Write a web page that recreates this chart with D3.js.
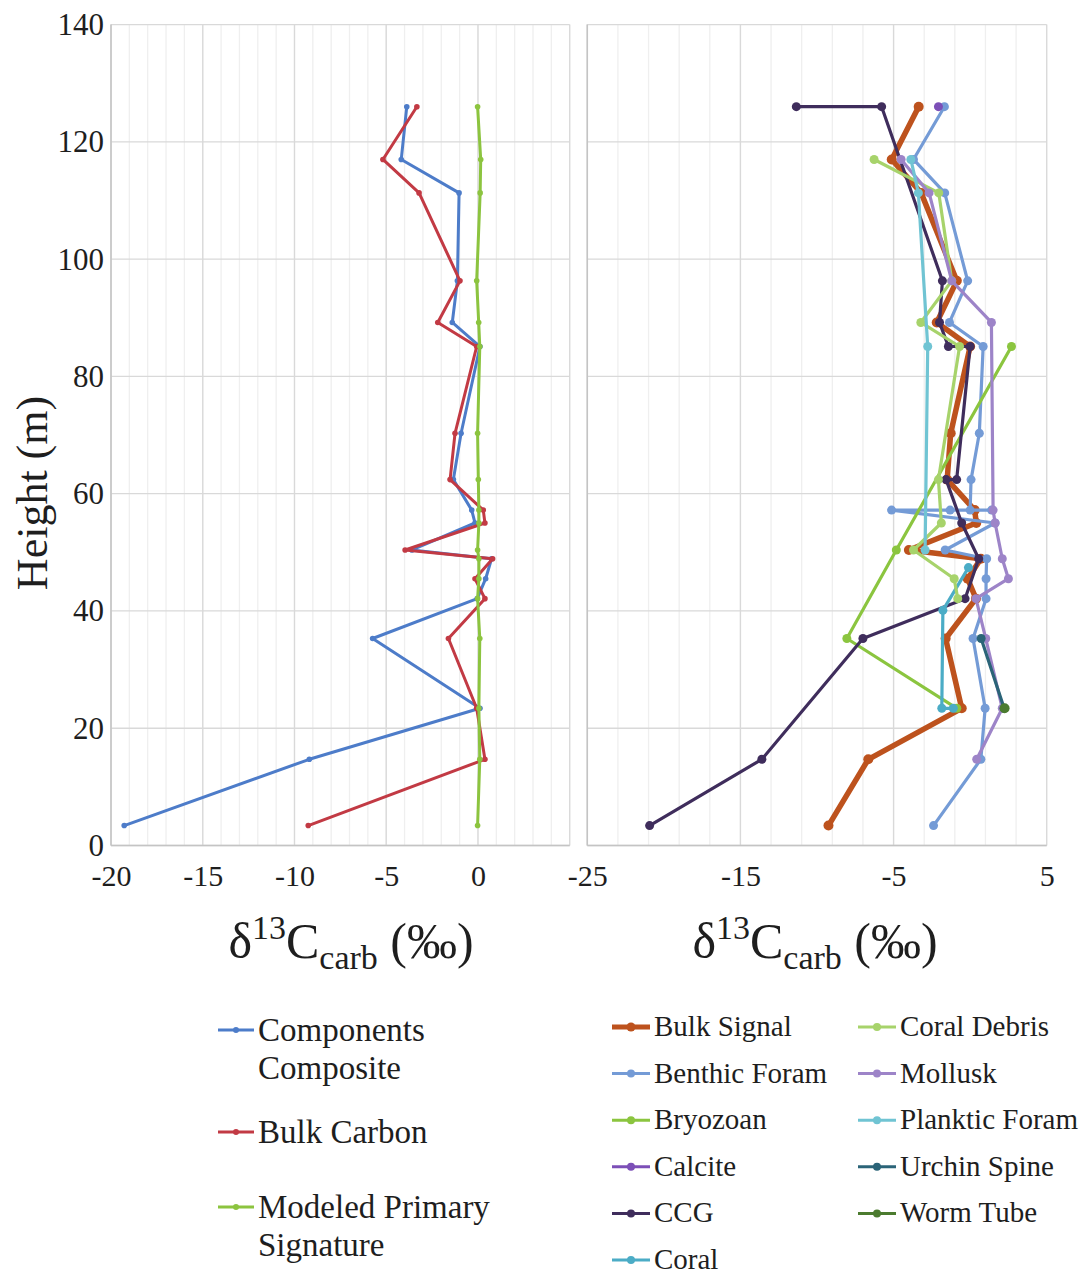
<!DOCTYPE html>
<html>
<head>
<meta charset="utf-8">
<script src="https://cdn.jsdelivr.net/npm/d3@7"></script>
<style>
  body { margin: 0; background: #fff; }
  svg { display: block; }
  text { font-family: "Liberation Serif", "Times New Roman", serif; fill: #1e1e1e; }
</style>
</head>
<body>
<svg id="chart" width="1080" height="1275"></svg>
<script>
// ---- Left panel: bulk-rock records (one value per sampled height) ----
const sampleHeights = [126, 117, 111.3, 96.3, 89.2, 85.1, 70.3, 62.4, 57.2, 55, 50.4, 48.9, 45.5, 42.1, 35.3, 23.4, 14.7, 3.4];
const componentsComposite = [-3.88, -4.18, -1.03, -1.12, -1.40, 0.11, -0.92, -1.34, -0.34, -0.16, -3.6, 0.74, 0.42, -0.04, -5.74, 0.11, -9.19, -19.28];
const bulkCarbon = [-3.33, -5.18, -3.21, -0.98, -2.19, -0.07, -1.25, -1.52, 0.29, 0.38, -3.97, 0.80, -0.16, 0.38, -1.61, -0.07, 0.38, -9.25];
const modeledPrimary = [-0.02, 0.15, 0.12, -0.07, 0.04, 0.10, -0.02, 0.02, 0.05, 0.05, -0.02, 0.05, 0.05, -0.02, 0.10, 0.05, 0.10, -0.02];

// ---- Right panel: component records as [δ13C, height] pairs ----
const bulkSignal = [[-3.36,126],[-5.12,117],[-3.2,111.3],[-0.87,96.3],[-2.18,89.2],[0.0,85.1],[-1.27,70.3],[-1.5,62.4],[0.3,57.2],[0.4,55],[-4.0,50.4],[0.7,48.9],[-0.16,45.5],[0.38,42.1],[-1.6,35.3],[-0.55,23.4],[-6.65,14.7],[-9.25,3.4]];
const benthicForam = [[-1.68,126],[-3.70,117],[-1.66,111.3],[-0.16,96.3],[-1.35,89.2],[0.85,85.1],[0.60,70.3],[0.06,62.4],[0.0,57.2],[1.4,57.2],[-1.31,57.2],[-5.13,57.2],[1.63,55],[-1.63,50.4],[1.08,48.9],[1.04,45.5],[1.04,42.1],[0.19,35.3],[0.98,23.4],[0.70,14.7],[-2.39,3.4]];
const bryozoan = [[2.70,85.1],[-4.82,50.4],[-8.05,35.3],[-0.87,23.4]];
const calcite = [[-2.07,126]];
const ccg = [[-11.35,126],[-5.78,126],[-1.81,96.3],[-2.0,89.2],[-1.42,85.1],[0.0,85.1],[-0.88,62.4],[-1.57,62.4],[-0.55,55],[0.56,48.9],[-0.33,42.1],[-7.0,35.3],[-13.6,14.7],[-20.93,3.4]];
const coral = [[-0.11,47.4],[-1.78,40.1],[-1.85,23.4],[-1.1,23.4]];
const coralDebris = [[-6.27,117],[-2.05,111.3],[-1.2,96.3],[-3.22,89.2],[-0.69,85.1],[-2.07,62.4],[-1.88,55],[-3.7,50.4],[-1.04,45.5],[-0.81,42.1]];
const mollusk = [[-4.51,117],[-2.68,111.3],[-1.2,96.3],[1.39,89.2],[1.5,57.2],[1.63,55],[2.1,48.9],[2.5,45.5],[0.38,42.1],[1.02,35.3],[2.1,23.4],[0.43,14.7]];
const plankticForam = [[-3.87,117],[-3.38,111.3],[-2.77,85.1],[-2.94,50.4]];
const urchinSpine = [[0.72,35.3],[2.22,23.4]];
const wormTube = [[2.25,23.4]];

// ---- Axis ticks ----
const heightTicks = [0, 20, 40, 60, 80, 100, 120, 140];
const leftXTicks = [-20, -15, -10, -5, 0];
const rightXTicks = [-25, -15, -5, 5];

const svg = d3.select("#chart");

const y = d3.scaleLinear().domain([0, 140]).range([845.5, 24.6]);
const xL = d3.scaleLinear().domain([-20, 5]).range([111, 569.7]);
const xR = d3.scaleLinear().domain([-25, 5]).range([587.3, 1046.7]);

function grid(x, minorStep, majorVals) {
  const g = svg.append("g");
  const [d0, d1] = x.domain();
  g.selectAll(".minor").data(d3.range(d0, d1 + 0.001, minorStep)).join("line")
    .attr("x1", d => x(d)).attr("x2", d => x(d))
    .attr("y1", y(0)).attr("y2", y(140))
    .attr("stroke", "#efefef").attr("stroke-width", 1.3);
  g.selectAll(".hz").data(heightTicks).join("line")
    .attr("x1", x.range()[0]).attr("x2", x.range()[1])
    .attr("y1", d => y(d)).attr("y2", d => y(d))
    .attr("stroke", "#d9d9d9").attr("stroke-width", 1.3);
  g.selectAll(".major").data(majorVals).join("line")
    .attr("x1", d => x(d)).attr("x2", d => x(d))
    .attr("y1", y(0)).attr("y2", y(140))
    .attr("stroke", "#d9d9d9").attr("stroke-width", 1.3);
  // value axis line (left edge) and category axis line (bottom)
  g.append("line").attr("x1", x.range()[0]).attr("x2", x.range()[0])
    .attr("y1", y(0)).attr("y2", y(140)).attr("stroke", "#c4c4c4").attr("stroke-width", 1.5);
  g.append("line").attr("x1", x.range()[0]).attr("x2", x.range()[1])
    .attr("y1", y(0)).attr("y2", y(0)).attr("stroke", "#c4c4c4").attr("stroke-width", 1.5);
}

grid(xL, 1, [-20, -15, -10, -5, 0, 5]);
grid(xR, 2, [-25, -15, -5, 5]);

// tick labels
function xAxis(x, ticks) {
  const g = svg.append("g").attr("transform", `translate(0,${y(0)})`)
    .call(d3.axisBottom(x).tickValues(ticks).tickSize(0).tickPadding(19).tickFormat(d => String(d)));
  g.select(".domain").remove();
  g.selectAll("text").attr("font-size", 30).attr("font-family", "Liberation Serif").attr("fill", "#1e1e1e");
}
xAxis(xL, leftXTicks);
xAxis(xR, rightXTicks);

const yg = svg.append("g").attr("transform", `translate(${xL.range()[0]},0)`)
  .call(d3.axisLeft(y).tickValues(heightTicks).tickSize(0).tickPadding(7).tickFormat(d => String(d)));
yg.select(".domain").remove();
yg.selectAll("text").attr("font-size", 31).attr("font-family", "Liberation Serif").attr("fill", "#1e1e1e");

// axis titles
svg.append("text")
  .attr("transform", `translate(47,493) rotate(-90)`)
  .attr("text-anchor", "middle").attr("font-size", 44)
  .text("Height (m)");

function deltaTitle(cx) {
  const t = svg.append("text").attr("x", cx).attr("y", 958)
    .attr("text-anchor", "middle").attr("font-size", 50);
  t.append("tspan").text("δ");
  t.append("tspan").attr("font-size", 34).attr("dy", -19).text("13");
  t.append("tspan").attr("dy", 19).text("C");
  t.append("tspan").attr("font-size", 34).attr("dy", 11).text("carb");
  t.append("tspan").attr("dy", -11).text(" (‰)");
}
deltaTitle(351);
deltaTitle(815);

// ---- series drawing ----
function drawSeries(x, pts, color, width, r) {
  const line = d3.line().x(d => x(d[0])).y(d => y(d[1]));
  const g = svg.append("g");
  if (pts.length > 1) {
    g.append("path").datum(pts).attr("d", line)
      .attr("fill", "none").attr("stroke", color).attr("stroke-width", width)
      .attr("stroke-linejoin", "round").attr("stroke-linecap", "round");
  }
  g.selectAll("circle").data(pts).join("circle")
    .attr("cx", d => x(d[0])).attr("cy", d => y(d[1])).attr("r", r).attr("fill", color);
}

const leftSeries = [
  { name: ["Components", "Composite"], values: componentsComposite, color: "#4d7cc9" },
  { name: ["Bulk Carbon"], values: bulkCarbon, color: "#c23a44" },
  { name: ["Modeled Primary", "Signature"], values: modeledPrimary, color: "#8cc43f" }
];
leftSeries.forEach(s => {
  drawSeries(xL, s.values.map((v, i) => [v, sampleHeights[i]]), s.color, 3, 2.8);
});

const rightSeries = [
  { name: "Bulk Signal", data: bulkSignal, color: "#bd521d", w: 5.5, r: 5 },
  { name: "Benthic Foram", data: benthicForam, color: "#749bd6", w: 3.2, r: 4.5 },
  { name: "Bryozoan", data: bryozoan, color: "#8bc53f", w: 3.2, r: 4.5 },
  { name: "Calcite", data: calcite, color: "#7c4fb7", w: 3.2, r: 4.5 },
  { name: "CCG", data: ccg, color: "#3f2d5c", w: 3.2, r: 4.5 },
  { name: "Coral", data: coral, color: "#4bacc6", w: 3.2, r: 4.5 },
  { name: "Coral Debris", data: coralDebris, color: "#a7d36b", w: 3.2, r: 4.5 },
  { name: "Mollusk", data: mollusk, color: "#9d84c8", w: 3.2, r: 4.5 },
  { name: "Planktic Foram", data: plankticForam, color: "#70c4d3", w: 3.2, r: 4.5 },
  { name: "Urchin Spine", data: urchinSpine, color: "#2b6478", w: 3.2, r: 4.5 },
  { name: "Worm Tube", data: wormTube, color: "#4b7b2f", w: 3.2, r: 5 }
];
rightSeries.forEach(s => drawSeries(xR, s.data, s.color, s.w, s.r));

// ---- legends ----
function legendKey(x0, x1, yy, color, w, r) {
  svg.append("line").attr("x1", x0).attr("x2", x1).attr("y1", yy).attr("y2", yy)
    .attr("stroke", color).attr("stroke-width", w);
  svg.append("circle").attr("cx", (x0 + x1) / 2).attr("cy", yy).attr("r", r).attr("fill", color);
}

const leftLegendRows = [1030, 1132, 1207];
leftSeries.forEach((s, i) => {
  const yy = leftLegendRows[i];
  legendKey(218, 254, yy, s.color, 3, 3);
  s.name.forEach((line, j) => {
    svg.append("text").attr("x", 258).attr("y", yy + 11 + j * 38)
      .attr("font-size", 33).text(line);
  });
});

rightSeries.forEach((s, i) => {
  const col = i < 6 ? 0 : 1;
  const row = i < 6 ? i : i - 6;
  const yy = 1027 + row * 46.6;
  const x0 = col === 0 ? 612 : 858;
  legendKey(x0, x0 + 38, yy, s.color, s.w === 5.5 ? 5 : 3, s.w === 5.5 ? 4.5 : 4);
  svg.append("text").attr("x", x0 + 42).attr("y", yy + 9)
    .attr("font-size", 29).text(s.name);
});
</script>
</body>
</html>
